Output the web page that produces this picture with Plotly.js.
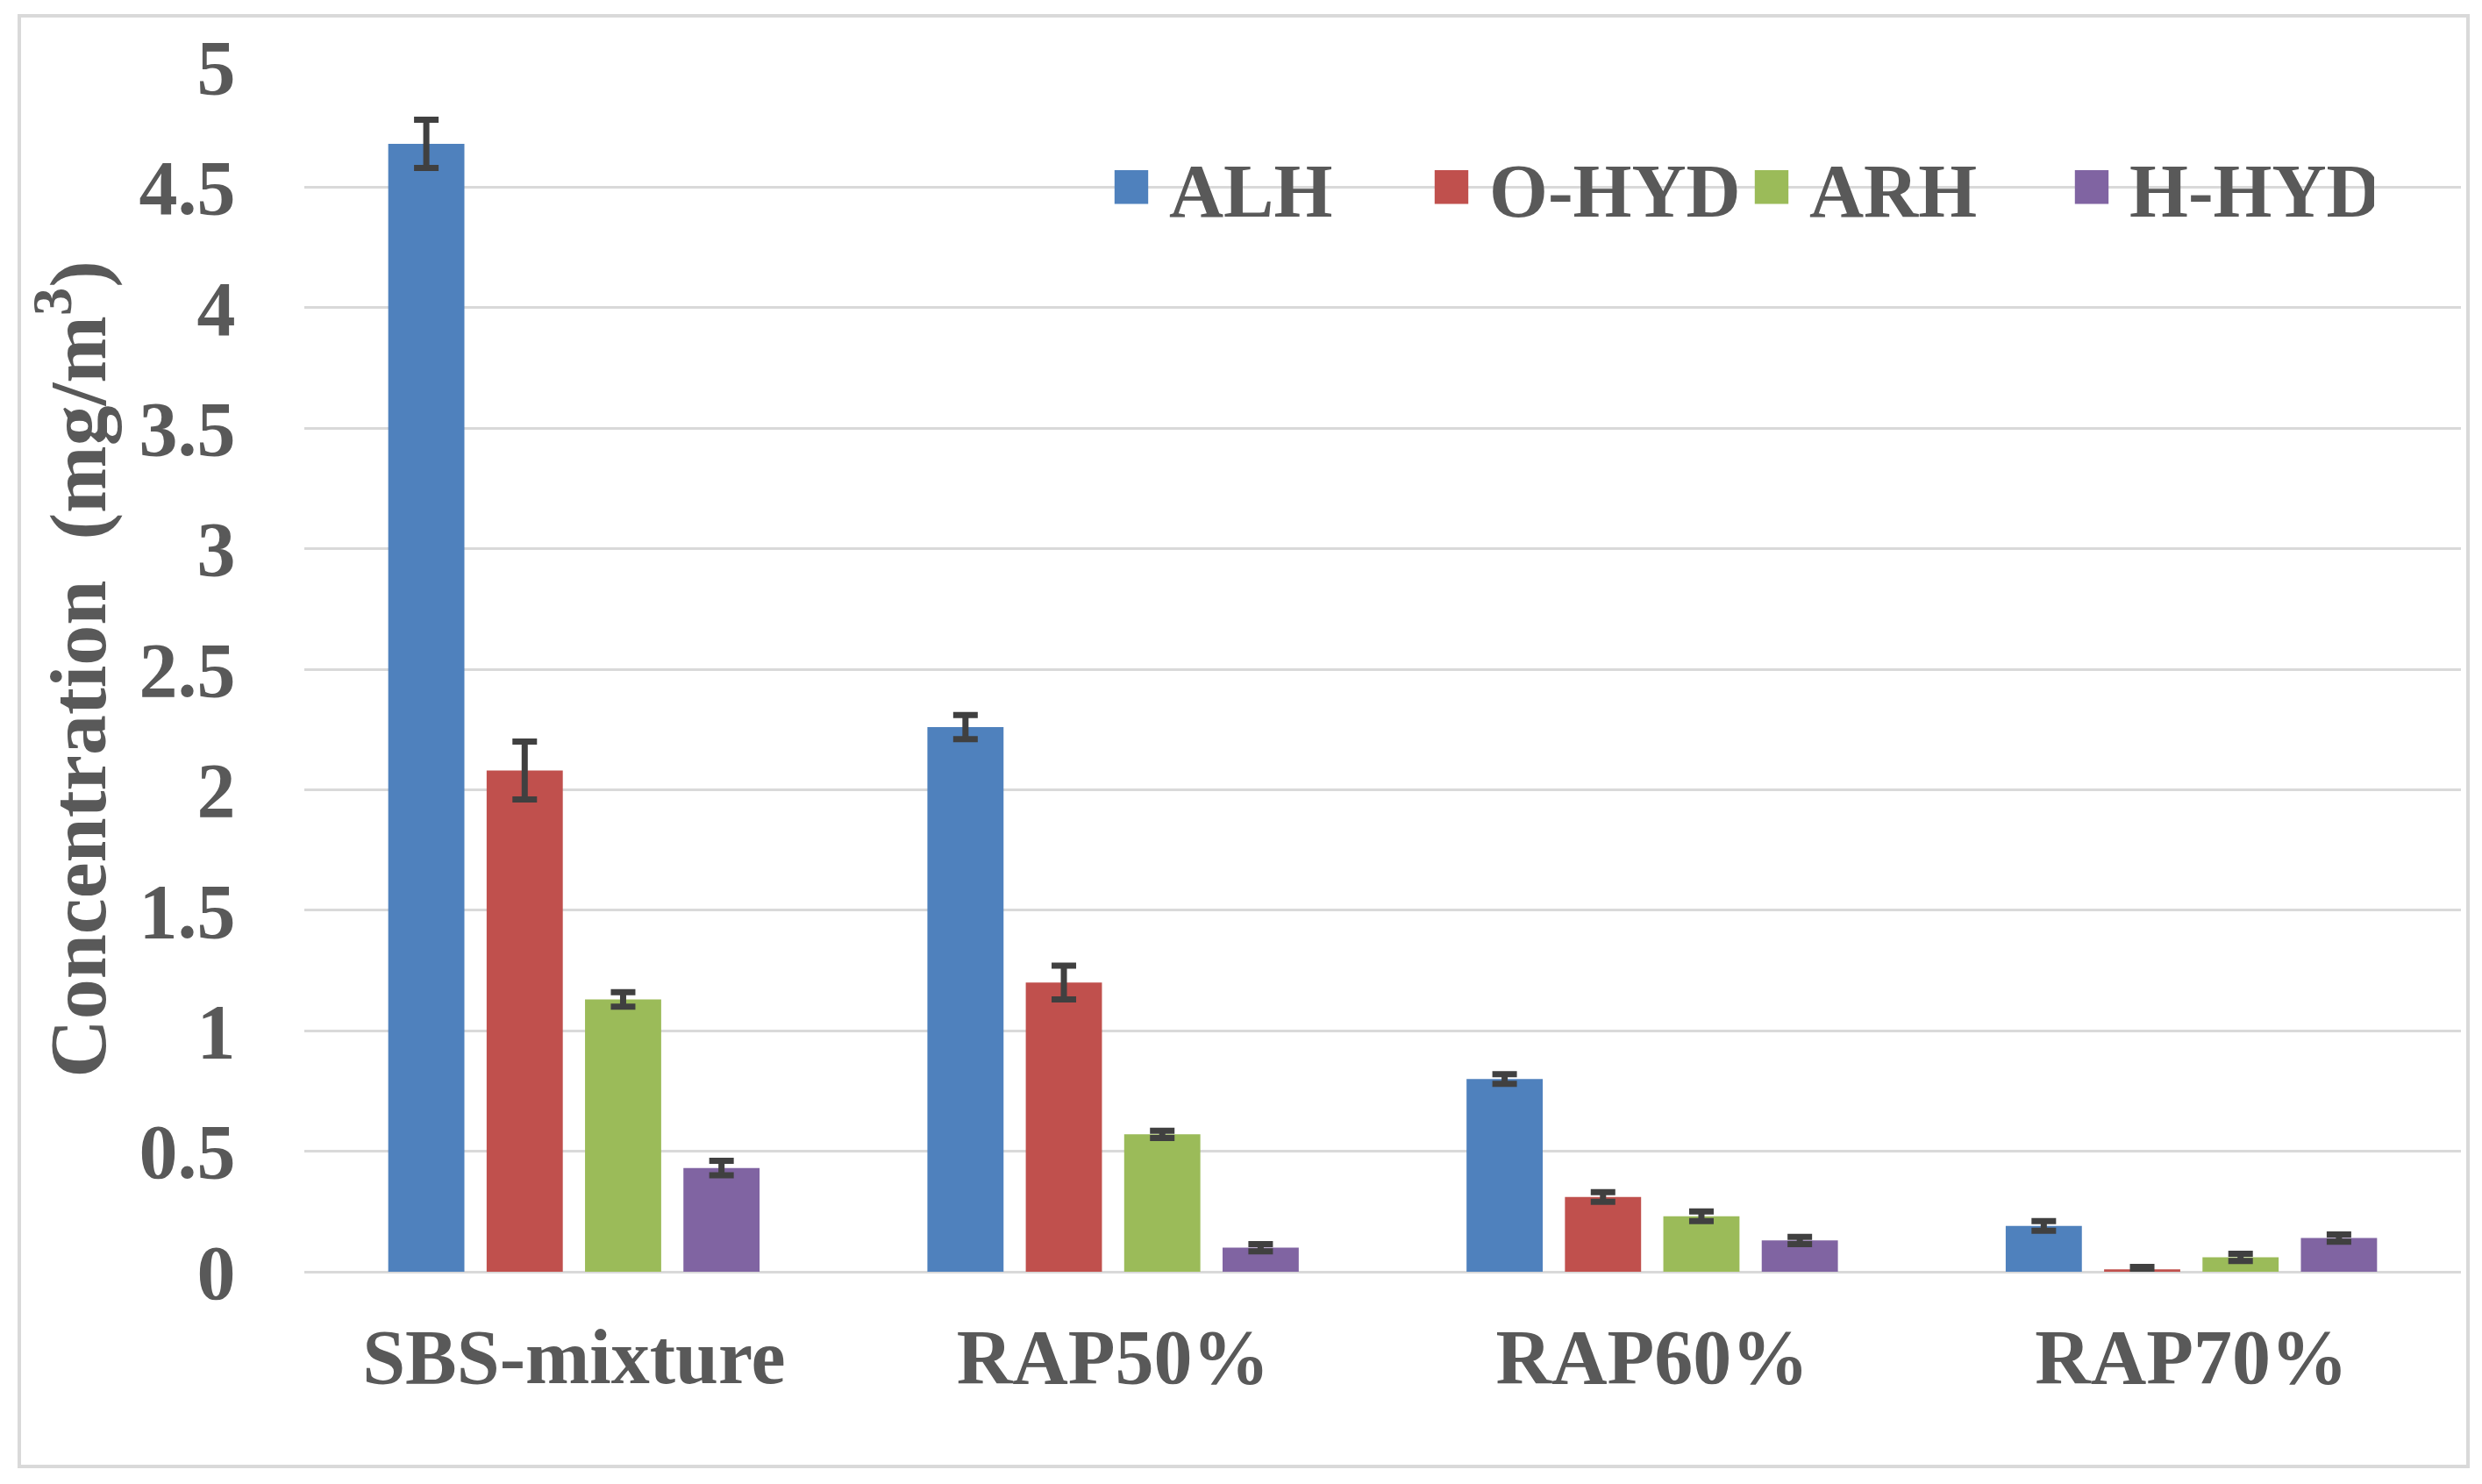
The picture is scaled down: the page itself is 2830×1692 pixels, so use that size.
<!DOCTYPE html>
<html>
<head>
<meta charset="utf-8">
<script src="https://cdn.plot.ly/plotly-3.0.1.min.js"></script>
<style>
  html, body { margin: 0; padding: 0; background: #ffffff; }
  #frame { position: absolute; left: 20px; top: 16px; width: 2788px; height: 1650px;
           border: 4px solid #D9D9D9; background: #ffffff; }
  #chart { width: 2788px; height: 1650px; }
</style>
</head>
<body>
<div id="frame"><div id="chart"></div></div>
<script>
const categories = ["SBS-mixture", "RAP50%", "RAP60%", "RAP70%"];
const seriesNames = ["ALH", "O-HYD", "ARH", "H-HYD"];
const alh   = [4.68, 2.26, 0.80, 0.19];
const ohyd  = [2.08, 1.20, 0.31, 0.01];
const arh   = [1.13, 0.57, 0.23, 0.06];
const hhyd  = [0.43, 0.10, 0.13, 0.14];
const alhErr  = [0.10, 0.05, 0.02, 0.02];
const ohydErr = [0.12, 0.07, 0.02, 0.01];
const arhErr  = [0.03, 0.015, 0.02, 0.015];
const hhydErr = [0.03, 0.015, 0.015, 0.015];
const colors = ["#4F81BD", "#C0504D", "#9BBB59", "#8064A2"];
const yTicks = [0, 0.5, 1, 1.5, 2, 2.5, 3, 3.5, 4, 4.5, 5];

const values = [alh, ohyd, arh, hhyd];
const errors = [alhErr, ohydErr, arhErr, hhydErr];

const font = "Liberation Serif, Times New Roman, serif";

const traces = seriesNames.map((name, i) => ({
  type: "bar",
  name: name,
  x: categories,
  y: values[i],
  marker: { color: colors[i] },
  error_y: { type: "data", array: errors[i], visible: true, color: "#404040", thickness: 7, width: 14 }
}));

const layout = {
  width: 2788, height: 1650,
  margin: { l: 323, r: 6, t: 56, b: 220 },
  paper_bgcolor: "#ffffff", plot_bgcolor: "#ffffff",
  barmode: "group",
  bargap: 0.27,
  bargroupgap: 0.226,
  font: { family: font, color: "#595959" },
  xaxis: {
    type: "category",
    showgrid: false, zeroline: false, showline: false,
    ticks: "outside", ticklen: 20, tickcolor: "rgba(0,0,0,0)",
    tickfont: { family: font, size: 88, color: "#595959", weight: "bold" }
  },
  yaxis: {
    range: [0, 5], tickvals: yTicks,
    showgrid: true, gridcolor: "#D9D9D9", gridwidth: 3,
    zeroline: true, zerolinecolor: "#D9D9D9", zerolinewidth: 3,
    showline: false,
    ticks: "outside", ticklen: 60, tickcolor: "rgba(0,0,0,0)",
    tickfont: { family: font, size: 88, color: "#595959", weight: "bold" },
    title: { text: "Concentration  (mg/m<sup>3</sup>)", standoff: 20,
             font: { family: font, size: 92, color: "#595959", weight: "bold" } }
  },
  legend: {
    orientation: "h",
    x: 0.366, y: 0.90, xanchor: "left", yanchor: "middle",
    bgcolor: "rgba(0,0,0,0)",
    font: { family: font, size: 86, color: "#595959", weight: "bold" },
    itemwidth: 76,
    entrywidth: 274,
    entrywidthmode: "pixels",
    traceorder: "normal"
  },
  showlegend: true
};

Plotly.newPlot("chart", traces, layout, { displayModeBar: false, staticPlot: true }).then(() => {
  document.querySelectorAll("#chart .legend .legendpoints path").forEach(p => {
    const t = p.getAttribute("transform") || "";
    p.setAttribute("transform", t + " scale(3.2)");
  });
});
</script>
</body>
</html>
